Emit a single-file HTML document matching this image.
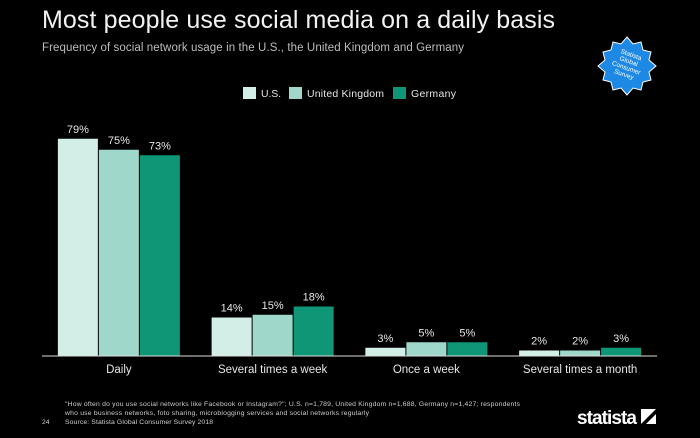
<!DOCTYPE html>
<html><head><meta charset="utf-8"><style>
body{margin:0;background:#000;width:700px;height:438px;overflow:hidden;font-family:"Liberation Sans",sans-serif;}
svg{display:block}
</style></head><body>
<svg width="700" height="438">
<text x="42" y="28" font-size="25" fill="#f2f2f2" textLength="513">Most people use social media on a daily basis</text>
<text x="42" y="51" font-size="11.5" fill="#bdbdbd" textLength="422">Frequency of social network usage in the U.S., the United Kingdom and Germany</text>
<g>
<polygon fill="#1e88e5" stroke="#fff" stroke-width="1" points="627,37 633,44 641,42 643,50 651,52 649,60 656,66 649,72 651,80 643,82 641,90 633,88 627,95 621,88 613,90 611,82 603,80 605,72 598,66 605,60 603,52 611,50 613,42 621,44"/>
<text x="627" y="56" font-size="6.5" fill="#fff" text-anchor="middle" transform="rotate(20 627 66)">Statista</text>
<text x="627" y="63" font-size="6.5" fill="#fff" text-anchor="middle" transform="rotate(20 627 66)">Global</text>
<text x="627" y="70" font-size="6.5" fill="#fff" text-anchor="middle" transform="rotate(20 627 66)">Consumer</text>
<text x="627" y="77" font-size="6.5" fill="#fff" text-anchor="middle" transform="rotate(20 627 66)">Survey</text>
</g>
<g id="legend"></g>
<g id="bars"></g>
<line x1="42" y1="356" x2="657" y2="356" stroke="#ddd" stroke-width="1"/>
<g id="xlabels"></g>
<text x="65" y="406" font-size="6.8" fill="#cfcfcf" textLength="455">"How often do you use social networks like Facebook or Instagram?"; U.S. n=1,789, United Kingdom n=1,688, Germany n=1,427; respondents</text>
<text x="65" y="415" font-size="6.8" fill="#cfcfcf" textLength="304">who use business networks, foto sharing, microblogging services and social networks regularly</text>
<text x="42" y="424" font-size="6.8" fill="#cfcfcf">24</text>
<text x="65" y="424" font-size="6.8" fill="#cfcfcf" textLength="148">Source: Statista Global Consumer Survey 2018</text>
<text x="577" y="424" font-size="19" font-weight="bold" fill="#fff" textLength="60">statista</text>
<g><rect x="641" y="409" width="15" height="15" fill="#fff"/><polygon points="641,424 656,409 656,414 646,424" fill="#000"/></g>
</svg>
<script>
const categories=["Daily","Several times a week","Once a week","Several times a month"];
const seriesNames=["U.S.","United Kingdom","Germany"];
const usValues=[79,14,3,2];
const ukValues=[75,15,5,2];
const deValues=[73,18,5,3];
const colors=["#d3eee6","#9fd8ca","#0e9677"];
const NS="http://www.w3.org/2000/svg";
const x0=42,x1=657,base=356,pxPer=2.75;
const band=(x1-x0)/categories.length;
const bw=40,gap=1;
function y(v){return base-v*pxPer;}
function gx(i){return x0+band*(i+0.5);}
function mk(tag,attrs,parent){const e=document.createElementNS(NS,tag);for(const k in attrs)e.setAttribute(k,attrs[k]);parent.appendChild(e);return e;}
const bars=document.getElementById('bars'),xl=document.getElementById('xlabels'),lg=document.getElementById('legend');
const all=[usValues,ukValues,deValues];
categories.forEach((c,i)=>{
  all.forEach((vals,s)=>{
    const bx=gx(i)-1.5*bw-gap+s*(bw+gap);
    const r=mk('rect',{x:bx,y:y(vals[i]),width:bw,height:vals[i]*pxPer,fill:colors[s]},bars);
    
    
    const t=mk('text',{x:bx+bw/2,y:y(vals[i])-6,'font-size':11,fill:'#e6e6e6','text-anchor':'middle'},bars);
    t.textContent=vals[i]+'%';
    
    
  });
  const t=mk('text',{x:gx(i),y:373,'font-size':11.5,fill:'#e6e6e6','text-anchor':'middle'},xl);
  t.textContent=c;
  
  
});
const lx=[243,289,393];
const lw=[20,77,45];
seriesNames.forEach((n,s)=>{
  const r=mk('rect',{x:lx[s],y:87,width:13,height:12,fill:colors[s]},lg);
  
  
  const t=mk('text',{x:lx[s]+18,y:97,'font-size':10.5,fill:'#e6e6e6',textLength:lw[s]},lg);
  t.textContent=n;
  
  
});
</script>
</body></html>
